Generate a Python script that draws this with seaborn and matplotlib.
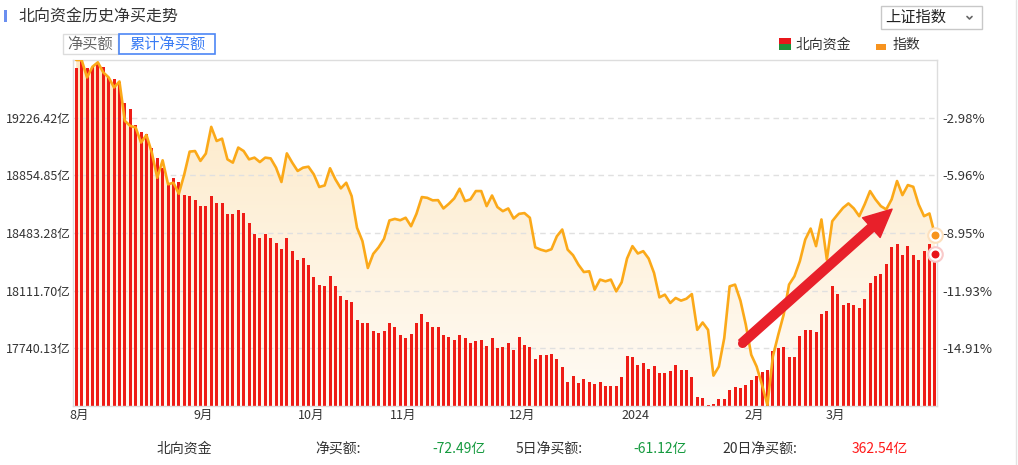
import numpy as np
import pandas as pd
import matplotlib
matplotlib.use("Agg")
import matplotlib.pyplot as plt
import seaborn as sns
from matplotlib.patches import Rectangle
from matplotlib.lines import Line2D
from matplotlib.colors import LinearSegmentedColormap

# 北向资金累计净买额 (亿), one value per trading day, 2023-08 .. 2024-03
cum_net_buy = [
    19546, 19590, 19546, 19550, 19572, 19555, 19486, 19475, 19454, 19324,
    19281, 19178, 19131, 19120, 19034, 18969, 18904, 18797, 18835, 18810,
    18726, 18719, 18693, 18655, 18655, 18719, 18674, 18674, 18603, 18603,
    18629, 18609, 18545, 18480, 18454, 18480, 18454, 18422, 18377, 18454,
    18370, 18312, 18325, 18280, 18202, 18150, 18144, 18209, 18144, 18079,
    18054, 18041, 17924, 17905, 17905, 17853, 17840, 17853, 17905, 17879,
    17827, 17808, 17834, 17905, 17963, 17911, 17879, 17879, 17827, 17814,
    17795, 17827, 17808, 17776, 17789, 17795, 17756, 17808, 17743, 17750,
    17776, 17730, 17814, 17763, 17750, 17672, 17698, 17698, 17705, 17672,
    17621, 17524, 17562, 17517, 17543, 17524, 17511, 17524, 17498, 17498,
    17498, 17556, 17692, 17685, 17634, 17646, 17608, 17627, 17582, 17582,
    17595, 17634, 17601, 17601, 17556, 17427, 17420, 17375, 17381, 17414,
    17414, 17472, 17491, 17485, 17504, 17537, 17562, 17588, 17601, 17724,
    17743, 17750, 17685, 17685, 17821, 17860, 17860, 17847, 17963, 17982,
    18144, 18092, 18021, 18034, 18021, 18002, 18060, 18163, 18209, 18222,
    18286, 18390, 18415, 18344, 18402, 18344, 18312, 18370, 18415, 18351,
]

# 上证指数 change (%)
index_pct = [
    0.0, 0.0, -0.90, -0.35, -0.12, -0.64, -0.90, -1.42, -1.11, -3.15,
    -3.41, -3.49, -4.27, -3.88, -4.79, -6.09, -5.19, -6.43, -6.35, -6.92,
    -5.92, -4.74, -4.71, -5.22, -4.84, -3.46, -4.19, -4.07, -5.14, -5.31,
    -4.53, -4.71, -5.14, -5.05, -5.28, -5.05, -5.09, -5.57, -6.31, -4.83,
    -5.31, -5.74, -5.57, -5.52, -5.92, -6.57, -6.49, -5.60, -6.18, -6.64,
    -6.35, -7.04, -8.68, -9.37, -10.76, -10.03, -9.69, -9.25, -8.30, -8.22,
    -8.29, -8.16, -8.60, -7.96, -7.09, -7.13, -7.26, -7.25, -7.68, -7.44,
    -7.16, -6.66, -7.30, -7.21, -6.78, -6.78, -7.56, -7.01, -7.61, -7.82,
    -7.68, -8.20, -7.96, -7.92, -8.16, -9.69, -9.81, -9.89, -9.79, -9.12,
    -8.77, -9.81, -10.10, -10.59, -10.97, -10.93, -11.88, -11.36, -11.45, -11.36,
    -11.97, -11.50, -10.27, -9.63, -10.01, -9.89, -10.27, -11.02, -12.28, -12.14,
    -12.57, -12.31, -12.45, -12.35, -12.11, -13.96, -13.58, -13.96, -16.33, -15.86,
    -14.39, -11.71, -11.62, -12.45, -13.70, -15.25, -15.86, -16.81, -17.85, -15.34,
    -14.22, -13.18, -11.62, -11.19, -10.41, -9.29, -8.72, -9.63, -8.25, -10.33,
    -8.34, -7.99, -7.65, -7.42, -7.68, -8.08, -7.47, -6.78, -7.21, -7.56,
    -7.73, -7.21, -6.26, -6.99, -6.47, -6.56, -7.47, -8.08, -7.94, -9.03,
]

month_days = [23, 20, 17, 22, 21, 22, 15, 20]
month_labels = ["8月", "9月", "10月", "11月", "12月", "2024", "2月", "3月"]

left_ticks = [19226.42, 18854.85, 18483.28, 18111.70, 17740.13]
left_range = (17368.56, 19597.99)
right_ticks = [-2.98, -5.96, -8.95, -11.93, -14.91]
right_range = (-17.90, 0.0)

stat_names = ["净买额:", "5日净买额:", "20日净买额:"]
stat_values = [-72.49, -61.12, 362.54]

RED = "#ee1c16"
ORANGE = "#fba919"
TXT = "#333333"

sns.set_theme(style="white")
plt.rcParams["font.family"] = ["Noto Sans CJK SC", "DejaVu Sans"]
plt.rcParams["axes.unicode_minus"] = False

df = pd.DataFrame({"day": np.arange(len(cum_net_buy)),
                   "cum": cum_net_buy, "pct": index_pct})

W, H = 1018, 465
fx = lambda px: px / W
fy = lambda py: 1 - py / H

fig = plt.figure(figsize=(W / 100, H / 100), dpi=100)
ax = fig.add_axes([fx(73), fy(406), (937 - 73) / W, (406 - 60) / H])
ax2 = ax.twinx()

xlim = (-0.6, len(df) - 0.6)

# bars (cumulative net buy)
sns.barplot(data=df, x="day", y="cum", ax=ax, color=RED, width=0.55,
            native_scale=True, errorbar=None, saturation=1, linewidth=0, zorder=2)
ax.set_xlim(*xlim)
ax.set_ylim(*left_range)

# index line + gradient area
sns.lineplot(data=df, x="day", y="pct", ax=ax2, color=ORANGE, linewidth=1.9, zorder=3)
ax2.set_xlim(*xlim)
ax2.set_ylim(*right_range)

poly = ax.fill_between(df["day"], df["pct"], right_range[0], transform=ax2.transData,
                       facecolor="none", edgecolor="none")
cmap = LinearSegmentedColormap.from_list("fillgrad", ["#fffbf5", "#fde8c4"])
grad = np.linspace(0, 1, 256).reshape(-1, 1)
im = ax.imshow(grad, extent=[xlim[0], xlim[1], left_range[0], left_range[1]],
               origin="lower", aspect="auto", cmap=cmap, zorder=0.3)
im.set_clip_path(poly.get_paths()[0], poly.get_transform())
ax.set_xlim(*xlim)
ax.set_ylim(*left_range)

# end markers
ax2.scatter([df["day"].iloc[-1]], [df["pct"].iloc[-1]], s=110, color="white",
            edgecolor="#fde0bd", linewidth=1.5, zorder=6, clip_on=False)
ax2.scatter([df["day"].iloc[-1]], [df["pct"].iloc[-1]], s=22, color="#f7941d",
            zorder=7, clip_on=False)
ax.scatter([df["day"].iloc[-1]], [df["cum"].iloc[-1]], s=110, color="white",
           edgecolor="#f9c9c9", linewidth=1.5, zorder=6, clip_on=False)
ax.scatter([df["day"].iloc[-1]], [df["cum"].iloc[-1]], s=22, color="#e8141a",
           zorder=7, clip_on=False)

# axes styling
ax.set_yticks(left_ticks)
ax.set_yticklabels([f"{v:.2f}亿" for v in left_ticks])
ax2.set_yticks(right_ticks)
ax2.set_yticklabels([f"{v:.2f}%" for v in right_ticks])
ticks = np.cumsum([0] + month_days[:-1]) + 0.55
ax.set_xticks(ticks)
ax.set_xticklabels(month_labels)
ax.set_xlabel("")
ax.set_ylabel("")
ax2.set_ylabel("")

ax.set_axisbelow(True)
ax.yaxis.grid(True, color="#e0e0e0", linestyle=(0, (4, 3)), linewidth=1)
ax.xaxis.grid(False)
ax2.grid(False)
ax.tick_params(axis="y", length=0, pad=1.5, labelsize=9, labelcolor=TXT)
ax.tick_params(axis="x", length=0, pad=2, labelsize=9, labelcolor=TXT)
ax2.tick_params(axis="y", length=0, pad=4, labelsize=9.5, labelcolor=TXT)
for s in ax.spines.values():
    s.set_color("#dddddd")
    s.set_linewidth(1)
for s in ax2.spines.values():
    s.set_visible(False)

# arrow annotation
arrow_tail = (0.774, 0.181)
ax2.annotate("", xy=(0.948, 0.569), xytext=arrow_tail,
             xycoords="axes fraction", textcoords="axes fraction",
             arrowprops=dict(arrowstyle="simple,head_length=1.0,head_width=0.95,tail_width=0.32",
                             color="#e8202a", shrinkA=0, shrinkB=0, mutation_scale=20),
             zorder=10)
ax2.scatter([arrow_tail[0]], [arrow_tail[1]], s=42, color="#e8202a", lw=0,
            transform=ax2.transAxes, zorder=10)

# header
fig.add_artist(Rectangle((fx(4), fy(22)), 3 / W, 12 / H, transform=fig.transFigure,
                         color="#6b8ff0", lw=0))
fig.text(fx(18), fy(17), "北向资金历史净买走势", fontsize=11.5, va="center", color=TXT)

fig.add_artist(Rectangle((fx(63), fy(54)), 55 / W, 20 / H, transform=fig.transFigure,
                         facecolor="white", edgecolor="#dcdcdc", lw=1))
fig.text(fx(90.5), fy(44.5), "净买额", fontsize=11, ha="center", va="center", color="#666666")
fig.add_artist(Rectangle((fx(119), fy(54)), 96 / W, 20 / H, transform=fig.transFigure,
                         facecolor="white", edgecolor="#4d86f5", lw=1.2))
fig.text(fx(167), fy(44.5), "累计净买额", fontsize=11, ha="center", va="center", color="#3a7cf4")

# dropdown
fig.add_artist(Rectangle((fx(881), fy(29)), 101 / W, 23 / H, transform=fig.transFigure,
                         facecolor="white", edgecolor="#c8c8c8", lw=1))
fig.text(fx(885), fy(17.5), "上证指数", fontsize=11, va="center", color="#222222")
fig.add_artist(Line2D([fx(967), fx(969.5), fx(972)], [fy(16.5), fy(19), fy(16.5)],
                      transform=fig.transFigure, color="#666666", lw=1.2))

# legend
fig.add_artist(Rectangle((fx(779), fy(44)), 12 / W, 6 / H, transform=fig.transFigure,
                         color="#e8161b", lw=0))
fig.add_artist(Rectangle((fx(779), fy(50)), 12 / W, 6 / H, transform=fig.transFigure,
                         color="#1f8f3a", lw=0))
fig.text(fx(796), fy(45), "北向资金", fontsize=10, va="center", color=TXT)
fig.add_artist(Rectangle((fx(876), fy(50)), 10 / W, 6 / H, transform=fig.transFigure,
                         color="#f7931e", lw=0))
fig.text(fx(893), fy(45), "指数", fontsize=10, va="center", color=TXT)

# panel border
fig.add_artist(Line2D([fx(1016), fx(1016)], [0, 1], transform=fig.transFigure,
                      color="#e3e3e3", lw=1))

# bottom stats row
fig.text(fx(157), fy(449), "北向资金", fontsize=10, va="center", color=TXT)
name_x = [315, 516, 722]
val_x = [432, 633, 852]
for name, val, nx, vx in zip(stat_names, stat_values, name_x, val_x):
    fig.text(fx(nx), fy(449), name, fontsize=10, va="center", color=TXT)
    fig.text(fx(vx), fy(449), f"{val:.2f}亿", fontsize=10, va="center",
             color="#159a3f" if val < 0 else "#ff1a1a")

fig.savefig("out.png", dpi=100, facecolor="white")
